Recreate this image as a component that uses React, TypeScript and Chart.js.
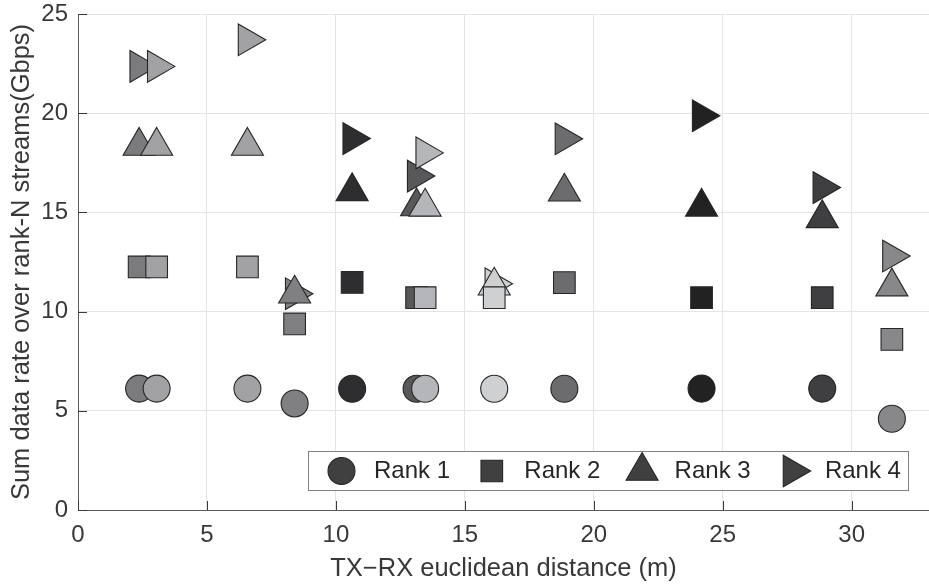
import React, { useEffect, useRef } from 'react';
import { Chart, registerables } from 'chart.js';
import { drawPoint } from 'chart.js/helpers';

Chart.register(...registerables);

// TX-RX distance (m) of each measured location
const distances = [2.37, 3.05, 6.57, 8.4, 10.63, 13.13, 13.46, 16.14, 18.86, 24.18, 28.86, 31.56];
// Sum data rate (Gbps) per rank, one value per location
const rank1 = [6.12, 6.12, 6.12, 5.37, 6.11, 6.11, 6.11, 6.11, 6.11, 6.12, 6.12, 4.6];
const rank2 = [12.25, 12.25, 12.25, 9.38, 11.47, 10.7, 10.7, 10.7, 11.46, 10.7, 10.7, 8.6];
const rank3 = [18.35, 18.35, 18.35, 10.9, 16.06, 15.3, 15.28, 11.3, 16.04, 15.28, 14.7, 11.26];
const rank4 = [22.36, 22.36, 23.7, 10.9, 18.72, 16.83, 18.0, 11.4, 18.71, 19.87, 16.25, 12.8];
// gray shade of each location
const locationGrays = ['#7b7b7e', '#a2a2a5', '#a2a2a5', '#808083', '#2e2e30', '#58585b', '#b5b6b9', '#cfd0d2', '#6c6c6f', '#222223', '#3f3f41', '#88888b'];
const seriesLabels = ['Rank 1', 'Rank 2', 'Rank 3', 'Rank 4'];
const xTitle = 'TX\u2212RX euclidean distance (m)';
const yTitle = 'Sum data rate over rank-N streams(Gbps)';

const FONT = '"Liberation Sans", Arial, Helvetica, sans-serif';
const BORDER = '#262626';

const markerStyles = [
  { pointStyle: 'circle', radius: 13.5, rotation: 0 },
  { pointStyle: 'rect', radius: 15.3, rotation: 0 },
  { pointStyle: 'triangle', radius: 18.5, rotation: 0 },
  { pointStyle: 'triangle', radius: 18.3, rotation: 90 },
];

const inwardTicks = {
  id: 'inwardTicks',
  beforeDatasetsDraw(chart: any) {
    const { ctx, chartArea } = chart;
    const x = chart.scales.x;
    const y = chart.scales.y;
    ctx.save();
    ctx.strokeStyle = '#3a3a3a';
    ctx.lineWidth = 1;
    x.ticks.forEach((t: any) => {
      const px = Math.round(x.getPixelForValue(t.value)) + 0.5;
      ctx.beginPath();
      ctx.moveTo(px, chartArea.bottom);
      ctx.lineTo(px, chartArea.bottom - 9);
      ctx.stroke();
    });
    y.ticks.forEach((t: any) => {
      const py = Math.round(y.getPixelForValue(t.value)) + 0.5;
      ctx.beginPath();
      ctx.moveTo(chartArea.left, py);
      ctx.lineTo(chartArea.left + 9, py);
      ctx.stroke();
    });
    ctx.restore();
  },
};

const boxLegend = {
  id: 'boxLegend',
  afterDatasetsDraw(chart: any) {
    const { ctx } = chart;
    const left = 308.5;
    const top = 451.5;
    const width = 600;
    const height = 39;
    const cy = top + height / 2;
    ctx.save();
    ctx.fillStyle = '#ffffff';
    ctx.fillRect(left, top, width, height);
    ctx.strokeStyle = '#808080';
    ctx.lineWidth = 1;
    ctx.strokeRect(left, top, width, height);
    chart.data.datasets.forEach((ds: any, i: number) => {
      const mx = left + 33 + i * 150.3;
      const st = markerStyles[i];
      ctx.fillStyle = '#404040';
      ctx.strokeStyle = BORDER;
      ctx.lineWidth = 1.1;
      drawPoint(ctx, { pointStyle: st.pointStyle, rotation: st.rotation, radius: st.radius, borderWidth: 1.1 } as any, mx, cy);
      ctx.fillStyle = '#262626';
      ctx.font = '24px ' + FONT;
      ctx.textAlign = 'left';
      ctx.textBaseline = 'middle';
      ctx.fillText(ds.label, mx + 32.5, cy + 0.5);
    });
    ctx.restore();
  },
};

export default function App() {
  const ref = useRef<HTMLCanvasElement | null>(null);

  useEffect(() => {
    document.body.style.margin = '0';
    const canvas = ref.current;
    if (!canvas) return;
    const ranks = [rank1, rank2, rank3, rank4];
    const datasets = ranks.map((vals, r) => ({
      label: seriesLabels[r],
      data: distances.map((d, i) => ({ x: d, y: vals[i] })),
      pointStyle: markerStyles[r].pointStyle,
      pointRotation: markerStyles[r].rotation,
      pointRadius: markerStyles[r].radius,
      pointHoverRadius: markerStyles[r].radius,
      pointBackgroundColor: locationGrays,
      pointBorderColor: BORDER,
      pointBorderWidth: 1.1,
      showLine: false,
      clip: false,
    }));

    const chart = new Chart(canvas, {
      type: 'scatter',
      data: { datasets },
      options: {
        animation: false,
        responsive: false,
        devicePixelRatio: 1,
        layout: { autoPadding: false, padding: { top: 14, right: 0, left: 0, bottom: 0 } },
        plugins: {
          legend: { display: false },
          tooltip: { enabled: false },
        },
        scales: {
          x: {
            type: 'linear',
            min: 0,
            max: 33,
            afterFit(scale: any) {
              scale.height = 78;
              scale.paddingLeft = 0;
              scale.paddingRight = 0;
            },
            ticks: {
              stepSize: 5,
              includeBounds: false,
              padding: 11,
              color: '#383838',
              font: { family: FONT, size: 24, lineHeight: 1.2 },
            },
            grid: { color: '#e4e4e4', lineWidth: 1, drawTicks: false },
            border: { color: '#5a5a5a', width: 1 },
            title: {
              display: true,
              text: xTitle,
              color: '#383838',
              font: { family: FONT, size: 25.5, lineHeight: 1.2 },
              padding: { top: 0, bottom: 3.4 },
            },
          },
          y: {
            type: 'linear',
            min: 0,
            max: 25,
            afterFit(scale: any) {
              scale.width = 78;
              scale.paddingTop = 0;
              scale.paddingBottom = 0;
            },
            ticks: {
              stepSize: 5,
              padding: 10,
              color: '#383838',
              font: { family: FONT, size: 24, lineHeight: 1 },
            },
            grid: { color: '#e4e4e4', lineWidth: 1, drawTicks: false },
            border: { color: '#5a5a5a', width: 1 },
            title: {
              display: true,
              text: yTitle,
              color: '#383838',
              font: { family: FONT, size: 25.5, lineHeight: 1.2 },
              padding: { top: 7, bottom: 0 },
            },
          },
        },
      },
      plugins: [inwardTicks, boxLegend],
    });
    return () => chart.destroy();
  }, []);

  return (
    <div style={{ width: 929, height: 588 }}>
      <canvas ref={ref} width={929} height={588} style={{ display: 'block' }} />
    </div>
  );
}
